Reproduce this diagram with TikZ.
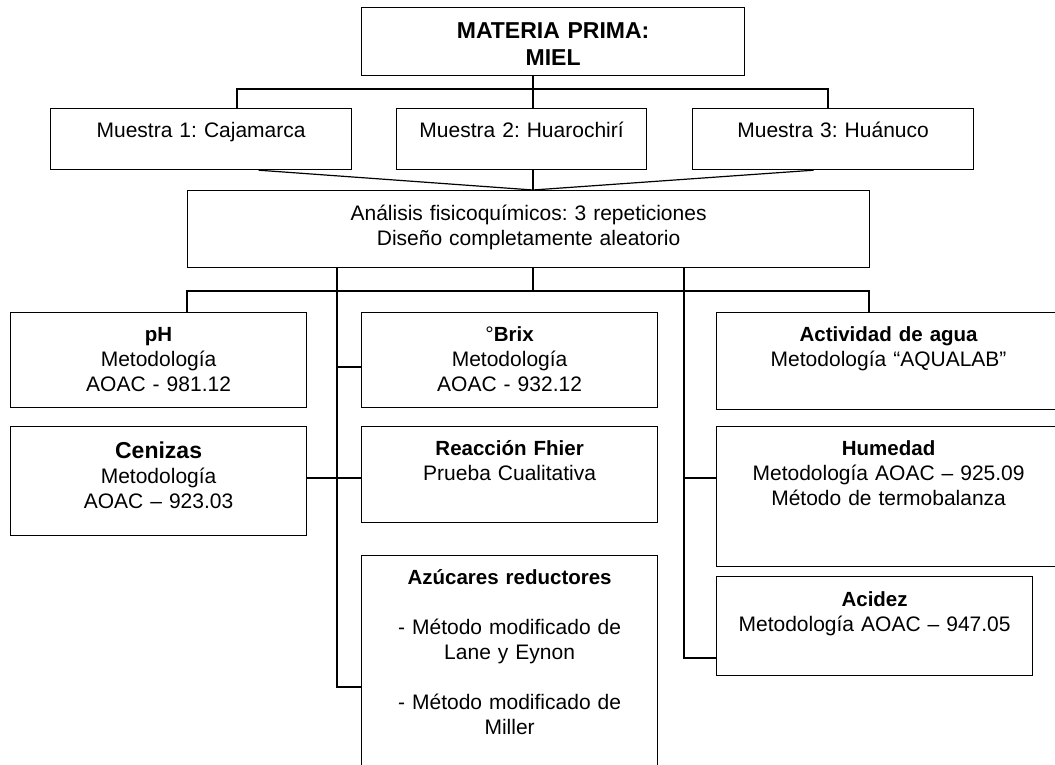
\documentclass[tikz,border=0pt]{standalone}
\usepackage{fontspec}
\setmainfont{Liberation Sans}
\frenchspacing
\usetikzlibrary{positioning}
\tikzset{box/.style = {draw, line width=1.2pt, anchor=north west, inner sep=0pt}}
\tikzset{boxtext/.style = {anchor=base, align=center, inner sep=0pt, text width=#1,
                           font=\fontsize{21}{25}\selectfont}}
\tikzset{link/.style = {draw, line width=1.2pt}}

\begin{document}
\begin{tikzpicture}[x=1pt, y=-1pt]
  \useasboundingbox (0,0) rectangle (1055,765);
  \clip (0,0) rectangle (1055,765);

  % cajas
  \node[box, minimum width=383pt, minimum height=68pt] (t) at (361,7) {};
  \node[box, minimum width=301pt, minimum height=61pt] (m1) at (50,108) {};
  \node[box, minimum width=250pt, minimum height=61pt] (m2) at (396,108) {};
  \node[box, minimum width=281pt, minimum height=61pt] (m3) at (692,108) {};
  \node[box, minimum width=682pt, minimum height=77pt] (a) at (187,190) {};
  \node[box, minimum width=296pt, minimum height=95pt] (ph) at (10,312) {};
  \node[box, minimum width=296pt, minimum height=109pt] (ce) at (10,426) {};
  \node[box, minimum width=296pt, minimum height=95pt] (bx) at (361,312) {};
  \node[box, minimum width=296pt, minimum height=96pt] (re) at (361,426) {};
  \node[box, minimum width=296pt, minimum height=240pt] (az) at (361,555) {};
  \node[box, minimum width=344pt, minimum height=97pt] (aw) at (716,312) {};
  \node[box, minimum width=344pt, minimum height=140pt] (hu) at (716,426) {};
  \node[box, minimum width=316pt, minimum height=99pt] (ad) at (716,576) {};

  % textos
  \node[boxtext=383pt, font=\fontsize{23}{27}\selectfont\bfseries] (tt) at ([yshift=-32pt]t.north) {MATERIA PRIMA:\\MIEL};
  \node[boxtext=301pt] (m1t) at ([yshift=-30pt]m1.north) {Muestra 1: Cajamarca};
  \node[boxtext=250pt] (m2t) at ([yshift=-30pt]m2.north) {Muestra 2: Huarochirí};
  \node[boxtext=281pt] (m3t) at ([yshift=-30pt]m3.north) {Muestra 3: Huánuco};
  \node[boxtext=682pt] (at) at ([yshift=-30pt]a.north) {Análisis fisicoquímicos: 3 repeticiones\\Diseño completamente aleatorio};
  \node[boxtext=296pt] (pht) at ([yshift=-29pt]ph.north) {{\fontsize{20.5}{25}\selectfont\bfseries pH}\\Metodología\\AOAC - 981.12};
  \node[boxtext=296pt] (cet) at ([yshift=-32pt]ce.north) {{\fontsize{23}{25}\selectfont\bfseries Cenizas}\\Metodología\\AOAC – 923.03};
  \node[boxtext=296pt] (bxt) at ([yshift=-29pt]bx.north) {°{\fontsize{20.5}{25}\selectfont\bfseries Brix}\\Metodología\\AOAC - 932.12};
  \node[boxtext=296pt] (ret) at ([yshift=-29pt]re.north) {{\fontsize{20.5}{25}\selectfont\bfseries Reacción Fhier}\\Prueba Cualitativa};
  \node[boxtext=296pt] (azt) at ([yshift=-29pt]az.north) {{\fontsize{20.5}{25}\selectfont\bfseries Azúcares reductores}\\[25pt]- Método modificado de\\Lane y Eynon\\[25pt]- Método modificado de\\Miller};
  \node[boxtext=344pt] (awt) at ([yshift=-29pt]aw.north) {{\fontsize{20.5}{25}\selectfont\bfseries Actividad de agua}\\Metodología “AQUALAB”};
  \node[boxtext=344pt] (hut) at ([yshift=-29pt]hu.north) {{\fontsize{20.5}{25}\selectfont\bfseries Humedad}\\Metodología AOAC – 925.09\\Método de termobalanza};
  \node[boxtext=316pt] (adt) at ([yshift=-30pt]ad.north) {{\fontsize{20.5}{25}\selectfont\bfseries Acidez}\\Metodología AOAC – 947.05};

  % lineas
  \coordinate (sp) at (533,0);
  \coordinate (l1) at (237,89);
  \coordinate (l3) at (828,89);
  \coordinate (r1) at (187,291);
  \coordinate (r2) at (869,291);
  \coordinate (c1) at (337,0);
  \coordinate (c3) at (684,0);
  \coordinate (k1) at (0,367);
  \coordinate (k2) at (0,478);
  \coordinate (k3) at (0,687);
  \coordinate (k4) at (0,658);

  \draw[link] (t.south -| sp) -- (m2.north -| sp);
  \draw[link] (l1 |- m1.north) -- (l1) -- (l3) -- (l3 |- m3.north);
  \draw[link] (m2.south -| sp) -- (a.north -| sp);
  \draw[link] ([xshift=57.5pt]m1.south) -- (a.north -| sp) -- ([xshift=-19.5pt]m3.south);

  \draw[link] (a.south -| sp) -- (r1 -| sp);
  \draw[link] (r1 |- ph.north) -- (r1) -- (r2) -- (r2 |- aw.north);
  \draw[link] (a.south -| c1) -- (c1 |- k3) -- (az.west |- k3);
  \draw[link] (c1 |- k1) -- (bx.west |- k1);
  \draw[link] (ce.east |- k2) -- (re.west |- k2);
  \draw[link] (a.south -| c3) -- (c3 |- k4) -- (ad.west |- k4);
  \draw[link] (c3 |- k2) -- (hu.west |- k2);
\end{tikzpicture}
\end{document}
